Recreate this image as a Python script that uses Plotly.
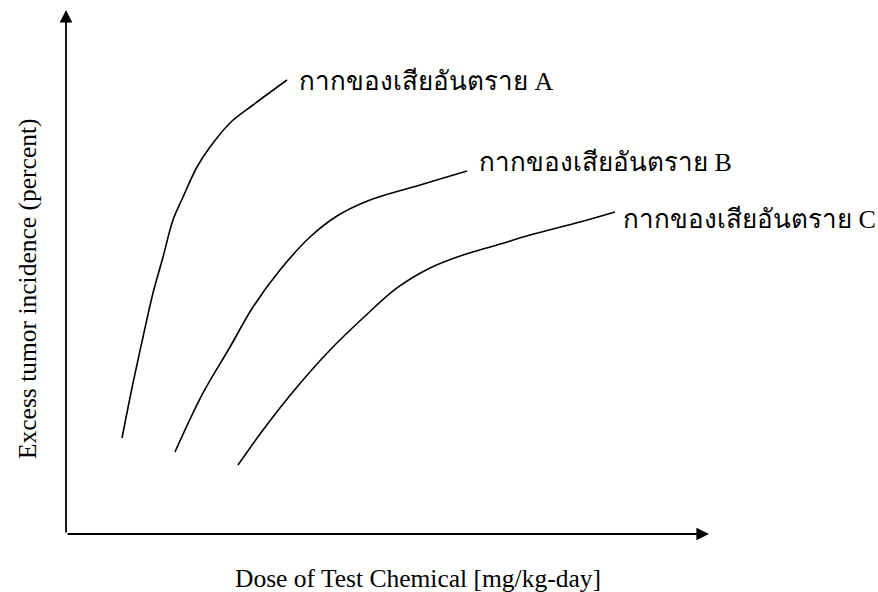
import plotly.graph_objects as go

# Schematic dose-response curves (arbitrary units 0-100)
a_dose = [8.71, 10.42, 11.98, 13.53, 15.09, 16.64, 18.20, 20.37, 22.40, 25.51, 29.08, 34.37]
a_resp = [18.32, 28.82, 37.60, 45.99, 52.86, 59.92, 64.31, 70.04, 73.85, 78.44, 81.87, 86.64]

b_dose = [16.95, 21.31, 25.51, 29.08, 33.28, 37.95, 42.15, 47.28, 55.05, 62.36]
b_resp = [15.65, 26.91, 35.69, 43.32, 50.38, 56.68, 60.69, 63.74, 66.60, 69.27]

c_dose = [26.75, 30.64, 35.93, 41.06, 46.19, 51.48, 56.61, 61.74, 67.03, 72.16, 79.94, 85.38]
c_resp = [13.17, 19.85, 28.05, 35.11, 41.22, 46.95, 50.76, 53.24, 55.15, 57.06, 59.54, 61.45]

labels = ["กากของเสียอันตราย A", "กากของเสียอันตราย B", "กากของเสียอันตราย C"]
x_title = "Dose of Test Chemical [mg/kg-day]"
y_title = "Excess tumor incidence (percent)"

FONT = "Liberation Serif, Times New Roman, serif"

fig = go.Figure()
for xs, ys in [(a_dose, a_resp), (b_dose, b_resp), (c_dose, c_resp)]:
    fig.add_trace(go.Scatter(x=xs, y=ys, mode="lines",
                             line=dict(color="black", width=1.6, shape="spline", smoothing=1.0),
                             hoverinfo="skip", showlegend=False))

# curve labels, placed just after each curve's end
label_offsets = [(10, -1), (10, 9), (6, -7)]
for (xs, ys), lab, (dx, dy) in zip([(a_dose, a_resp), (b_dose, b_resp), (c_dose, c_resp)], labels, label_offsets):
    fig.add_annotation(x=xs[-1], y=ys[-1], text=lab, showarrow=False,
                       xanchor="left", yanchor="middle", xshift=dx, yshift=dy,
                       font=dict(family=FONT, size=26, color="black"))

# axes with arrowheads
fig.add_annotation(x=100, y=0, ax=0, ay=0, xref="x", yref="y", axref="x", ayref="y",
                   showarrow=True, arrowhead=2, arrowsize=1.4, arrowwidth=1.8, arrowcolor="black", text="")
fig.add_annotation(x=0, y=100, ax=0, ay=0, xref="x", yref="y", axref="x", ayref="y",
                   showarrow=True, arrowhead=2, arrowsize=1.4, arrowwidth=1.8, arrowcolor="black", text="")

# axis titles
fig.add_annotation(x=0.547, y=-0.084, xref="paper", yref="paper", text=x_title, showarrow=False,
                   xanchor="center", yanchor="middle", font=dict(family=FONT, size=25.5, color="black"))
fig.add_annotation(x=-0.061, y=0.469, xref="paper", yref="paper", text=y_title, showarrow=False,
                   textangle=-90, xanchor="center", yanchor="middle",
                   font=dict(family=FONT, size=25.5, color="black"))

fig.update_xaxes(range=[0, 100], visible=False)
fig.update_yaxes(range=[0, 100], visible=False)
fig.update_layout(width=878, height=592, margin=dict(l=66, r=169, t=10, b=58),
                  plot_bgcolor="white", paper_bgcolor="white")

fig.write_html("out.html", config={"displayModeBar": False},
               post_script="document.body.style.margin='0';")
